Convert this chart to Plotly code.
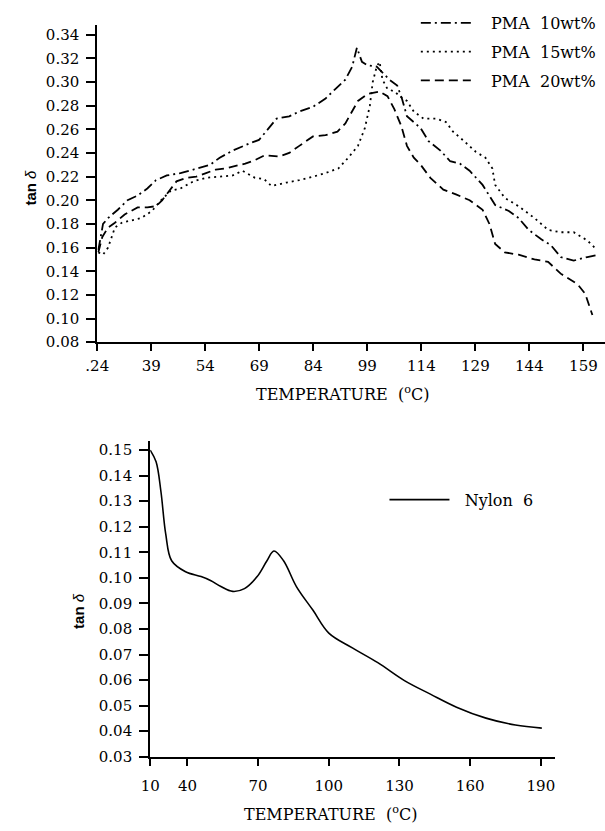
import plotly.graph_objects as go

# ---------------- Top panel data (PMA blends) ----------------
pma10_x = [24.3,25.6,27.0,29.7,32.4,35.2,37.9,40.3,43.3,47.1,50.7,55.3,58.0,61.6,66.2,68.9,71.1,73.8,77.3,80.1,83.9,87.4,90.1,92.9,94.8,96.1,97.5,99.1,101.6,103.2,105.1,107.3,108.6,110.0,111.9,113.8,116.0,119.3,122.0,124.7,127.4,131.0,134.5,138.3,141.0,143.8,147.3,150.0,152.7,156.3,160.1,163.1]
pma10_y = [0.158,0.180,0.185,0.192,0.200,0.204,0.210,0.217,0.221,0.223,0.226,0.230,0.236,0.242,0.248,0.251,0.259,0.269,0.271,0.275,0.279,0.286,0.294,0.302,0.313,0.329,0.317,0.314,0.313,0.308,0.302,0.297,0.286,0.271,0.266,0.261,0.250,0.242,0.233,0.231,0.225,0.213,0.196,0.191,0.185,0.175,0.167,0.162,0.152,0.149,0.152,0.154]

pma15_x = [24.3,25.6,27.0,28.1,28.9,30.8,33.5,36.2,39.2,41.7,44.4,47.1,50.7,54.2,58.0,61.6,64.3,67.8,70.3,72.4,76.5,80.1,83.9,87.4,91.0,93.7,96.4,98.3,99.7,100.5,101.6,102.4,103.2,104.6,106.5,108.4,110.0,111.9,114.6,118.2,120.9,122.8,125.5,129.1,131.8,133.7,134.5,137.2,141.0,145.4,149.2,152.7,156.3,160.1,162.8]
pma15_y = [0.156,0.154,0.160,0.169,0.177,0.181,0.183,0.185,0.191,0.200,0.208,0.210,0.216,0.219,0.220,0.221,0.225,0.219,0.218,0.212,0.215,0.217,0.220,0.223,0.227,0.236,0.246,0.261,0.280,0.300,0.313,0.317,0.302,0.294,0.292,0.287,0.284,0.275,0.269,0.269,0.266,0.258,0.251,0.241,0.236,0.227,0.213,0.202,0.195,0.185,0.175,0.173,0.173,0.166,0.158]

pma20_x = [24.3,25.4,27.0,28.9,31.6,35.2,37.9,40.3,42.0,43.9,46.0,48.8,51.5,54.2,56.9,59.7,62.4,65.1,67.8,70.5,74.6,77.3,80.1,83.9,87.4,90.7,92.9,94.8,96.4,99.1,102.4,104.6,106.5,108.4,110.0,111.9,113.8,116.5,120.1,123.6,127.4,131.0,132.9,134.5,137.2,141.0,145.4,149.2,152.7,157.4,159.5,161.5]
pma20_y = [0.156,0.169,0.177,0.181,0.188,0.194,0.194,0.195,0.200,0.208,0.216,0.219,0.220,0.223,0.226,0.227,0.229,0.231,0.234,0.238,0.237,0.240,0.246,0.254,0.255,0.258,0.265,0.275,0.284,0.290,0.292,0.288,0.277,0.263,0.246,0.236,0.230,0.219,0.209,0.205,0.200,0.192,0.180,0.163,0.156,0.154,0.150,0.148,0.138,0.129,0.121,0.103]

top_xticks = [24, 39, 54, 69, 84, 99, 114, 129, 144, 159]
top_xticktext = [".24", "39", "54", "69", "84", "99", "114", "129", "144", "159"]
top_yticks = [0.08,0.10,0.12,0.14,0.16,0.18,0.20,0.22,0.24,0.26,0.28,0.30,0.32,0.34]

# ---------------- Bottom panel data (Nylon 6) ----------------
nylon_x = [24.2,26.7,28.75,30.8,33.3,39.2,45.8,50.0,54.2,59.2,64.2,69.6,73.75,76.7,80.8,86.25,93.3,100.0,110.0,120.8,132.1,143.3,154.2,166.7,179.2,190.4]
nylon_y = [0.150,0.1454,0.1338,0.1171,0.1067,0.1024,0.1005,0.0989,0.0966,0.0947,0.0958,0.1005,0.1067,0.1105,0.1067,0.0966,0.0873,0.0784,0.0726,0.0668,0.0598,0.0544,0.0494,0.0451,0.0424,0.0412]

bot_xticks = [24.2, 40, 70, 100, 130, 160, 190]
bot_xticktext = ["10", "40", "70", "100", "130", "160", "190"]
bot_yticks = [0.03,0.04,0.05,0.06,0.07,0.08,0.09,0.10,0.11,0.12,0.13,0.14,0.15]

W, H = 605, 831
SERIF = "DejaVu Serif"
NB = "\u00a0"

fig = go.Figure()
fig.add_trace(go.Scatter(x=pma10_x, y=pma10_y, mode="lines", name=NB*3 + "PMA" + NB*2 + "10wt%",
                         line=dict(color="black", width=1.8, dash="10px,4px,2px,4px"),
                         xaxis="x", yaxis="y", legend="legend", legendgroup="a"))
fig.add_trace(go.Scatter(x=pma15_x, y=pma15_y, mode="lines", name=NB*3 + "PMA" + NB*2 + "15wt%",
                         line=dict(color="black", width=1.8, dash="2px,4px"),
                         xaxis="x", yaxis="y", legend="legend", legendgroup="b"))
fig.add_trace(go.Scatter(x=pma20_x, y=pma20_y, mode="lines", name=NB*3 + "PMA" + NB*2 + "20wt%",
                         line=dict(color="black", width=1.8, dash="9px,5px"),
                         xaxis="x", yaxis="y", legend="legend", legendgroup="c"))
fig.add_trace(go.Scatter(x=nylon_x, y=nylon_y, mode="lines", name=NB*2 + "Nylon" + NB*2 + "6",
                         line=dict(color="black", width=1.6, shape="spline"),
                         xaxis="x2", yaxis="y2", legend="legend2"))

axis_common = dict(showline=True, linecolor="black", linewidth=2, ticks="outside",
                   tickcolor="black", tickwidth=1.5, showgrid=False, zeroline=False,
                   tickfont=dict(family=SERIF, size=15, color="black"))

fig.update_layout(
    width=W, height=H, margin=dict(l=0, r=0, t=0, b=0),
    paper_bgcolor="white", plot_bgcolor="white",
    xaxis=dict(domain=[87/W, 1.0], range=[24, 165], tickvals=top_xticks, ticktext=top_xticktext,
               anchor="y", ticklen=7, ticklabelstandoff=2, **axis_common),
    yaxis=dict(domain=[1-346/H, 1-25/H], range=[0.08, 0.3484], tickvals=top_yticks,
               tickformat=".2f", anchor="x", ticklen=9, ticklabelstandoff=4, **axis_common),
    xaxis2=dict(domain=[141/W, 554/W], range=[24.2, 196], tickvals=bot_xticks, ticktext=bot_xticktext,
                anchor="y2", ticklen=7, ticklabelstandoff=7, **axis_common),
    yaxis2=dict(domain=[1-765/H, 1-446/H], range=[0.03, 0.1535], tickvals=bot_yticks,
                tickformat=".2f", anchor="x2", ticklen=9, ticklabelstandoff=4, **axis_common),
    legend=dict(x=412/W, y=1-6/H, xanchor="left", yanchor="top", bgcolor="rgba(0,0,0,0)",
                font=dict(family=SERIF, size=16, color="black"), itemwidth=50, tracegroupgap=5),
    legend2=dict(x=380/W, y=1-488/H, xanchor="left", yanchor="top", bgcolor="rgba(0,0,0,0)",
                 font=dict(family=SERIF, size=16, color="black"), itemwidth=60),
    annotations=[
        dict(text="TEMPERATURE  (<sup>o</sup>C)", x=337/W, y=1-398/H, xref="paper", yref="paper",
             xanchor="center", yanchor="middle",
             showarrow=False, font=dict(family=SERIF, size=16, color="black")),
        dict(text="TEMPERATURE  (<sup>o</sup>C)", x=325/W, y=1-822/H, xref="paper", yref="paper",
             xanchor="center", yanchor="middle",
             showarrow=False, font=dict(family=SERIF, size=16, color="black")),
        dict(text="<b>tan</b> <i>δ</i>", x=19/W, y=1-190/H, xref="paper", yref="paper",
             xanchor="center", yanchor="middle",
             showarrow=False, textangle=-90, font=dict(family="Liberation Sans", size=15, color="black")),
        dict(text="<b>tan</b> <i>δ</i>", x=68/W, y=1-618/H, xref="paper", yref="paper",
             xanchor="center", yanchor="middle",
             showarrow=False, textangle=-90, font=dict(family="Liberation Sans", size=15, color="black")),
    ],
)

fig.write_html("out.html")
